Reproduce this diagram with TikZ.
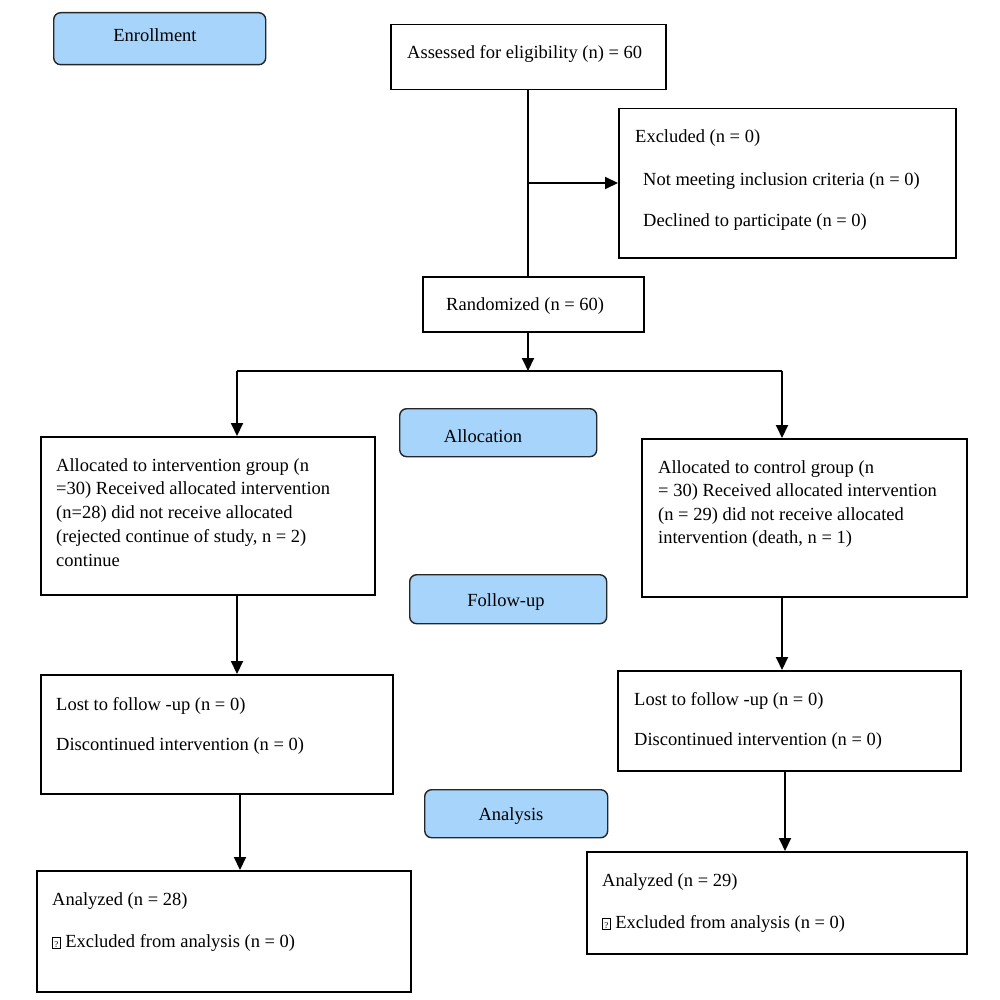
\documentclass[tikz,border=0pt]{standalone}
\usepackage{fontspec}
\setmainfont{Liberation Serif}
\usetikzlibrary{arrows.meta}
\definecolor{phase}{HTML}{A6D4FA}
\tikzset{
  box/.style={draw=black, line width=1.5pt, rectangle, anchor=north west, inner sep=0pt},
  phasebox/.style={draw=black!85, line width=1.4pt, fill=phase, rounded corners=7pt, anchor=north west, inner sep=0pt},
  txt/.style={anchor=base west, inner sep=0pt, font=\fontsize{18.5}{22}\selectfont},
  ctxt/.style={anchor=base, inner sep=0pt, font=\fontsize{18.5}{22}\selectfont},
  conn/.style={line width=2pt},
  arr/.style={line width=2pt, -{Triangle[width=12pt,length=13pt]}},
}
\newcommand{\qbox}{\fbox{\makebox[6.5pt]{\rule[-1pt]{0pt}{10.5pt}\fontsize{9}{9}\selectfont ?}}}
\begin{document}
\begin{tikzpicture}[x=1pt,y=-1pt]
\useasboundingbox (0,0) rectangle (1000,1000);
\setlength{\fboxsep}{0.3pt}\setlength{\fboxrule}{0.7pt}
% phase boxes
\node[phasebox, minimum width=212pt, minimum height=52pt] (enr) at (53,12) {};
\node[ctxt] (enrt) at (155,42) {Enrollment};
\node[phasebox, minimum width=197pt, minimum height=48pt] (alc) at (399,408) {};
\node[ctxt] (alct) at (483,442) {Allocation};
\node[phasebox, minimum width=197pt, minimum height=49pt] (fol) at (409,574) {};
\node[ctxt] (folt) at (506,606) {Follow-up};
\node[phasebox, minimum width=183pt, minimum height=48pt] (ana) at (424,789) {};
\node[ctxt] (anat) at (511,820) {Analysis};
% main boxes
\node[box, minimum width=275pt, minimum height=65pt] (ass) at (390,24) {};
\node[txt] (asst) at (407,59) {Assessed for eligibility (n) = 60};
\node[box, minimum width=337pt, minimum height=149pt] (exc) at (618,108) {};
\node[txt] (exc1) at (635,143) {Excluded (n = 0)};
\node[txt] (exc2) at (643,186) {Not meeting inclusion criteria (n = 0)};
\node[txt] (exc3) at (643,227) {Declined to participate (n = 0)};
\node[box, minimum width=221pt, minimum height=55pt] (ran) at (422,276) {};
\node[txt] (rant) at (446,310) {Randomized (n = 60)};
\node[box, minimum width=334pt, minimum height=158pt] (la) at (40,436) {};
\node[txt] (la1) at (56,471) {Allocated to intervention group (n};
\node[txt] (la2) at (56,494) {=30) Received allocated intervention};
\node[txt] (la3) at (56,518) {(n=28) did not receive allocated};
\node[txt] (la4) at (56,542) {(rejected continue of study, n = 2)};
\node[txt] (la5) at (56,566) {continue};
\node[box, minimum width=325pt, minimum height=158pt] (ra) at (641,438) {};
\node[txt] (ra1) at (658,473) {Allocated to control group (n};
\node[txt] (ra2) at (658,496) {= 30) Received allocated intervention};
\node[txt] (ra3) at (658,520) {(n = 29) did not receive allocated};
\node[txt] (ra4) at (658,543) {intervention (death, n = 1)};
\node[box, minimum width=352pt, minimum height=119pt] (ll) at (40,674) {};
\node[txt] (ll1) at (56,710) {Lost to follow -up (n = 0)};
\node[txt] (ll2) at (56,750) {Discontinued intervention (n = 0)};
\node[box, minimum width=343pt, minimum height=100pt] (rl) at (617,670) {};
\node[txt] (rl1) at (634,705) {Lost to follow -up (n = 0)};
\node[txt] (rl2) at (634,745) {Discontinued intervention (n = 0)};
\node[box, minimum width=374pt, minimum height=121pt] (lan) at (36,870) {};
\node[txt] (lan1) at (52,905) {Analyzed (n = 28)};
\node[txt] (lan2) at (52,947) {\qbox\ Excluded from analysis (n = 0)};
\node[box, minimum width=380pt, minimum height=102pt] (ran2) at (586,851) {};
\node[txt] (ran1) at (602,886) {Analyzed (n = 29)};
\node[txt] (ran3) at (602,928) {\qbox\ Excluded from analysis (n = 0)};
% connectors
\coordinate (br) at (528,183);
\coordinate (split) at (528,371);
\draw[conn] (split |- ass.south) -- (split |- ran.north);
\draw[arr] (br) -- (exc.west |- br);
\coordinate (ls) at (237,371);
\coordinate (rs) at (782,371);
\draw[arr] (split |- ran.south) -- (split);
\draw[conn] (ls) -- (rs);
\draw[arr] (ls) -- (ls |- la.north);
\draw[arr] (rs) -- (rs |- ra.north);
\coordinate (l1) at (237,594);
\draw[arr] (l1) -- (l1 |- ll.north);
\coordinate (r1) at (782,596);
\draw[arr] (r1) -- (r1 |- rl.north);
\coordinate (l2) at (240,793);
\draw[arr] (l2) -- (l2 |- lan.north);
\coordinate (r2) at (785,770);
\draw[arr] (r2) -- (r2 |- ran2.north);
\end{tikzpicture}
\end{document}
